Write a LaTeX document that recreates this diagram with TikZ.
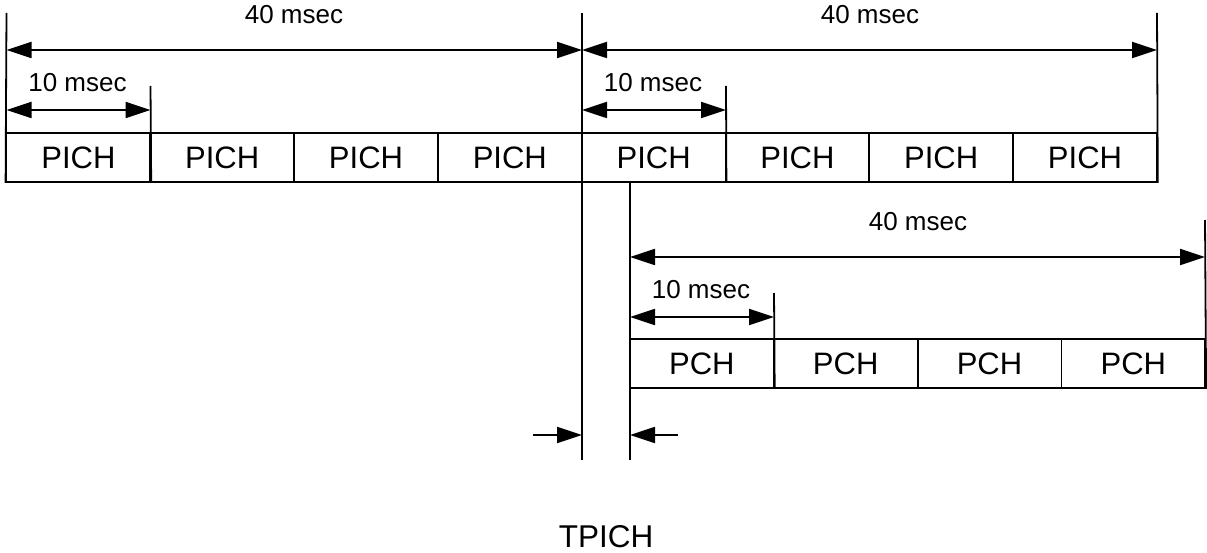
\documentclass[tikz,border=0pt]{standalone}
\usepackage{fontspec}
\setmainfont{Liberation Sans}
\usetikzlibrary{arrows.meta}
\begin{document}
\begin{tikzpicture}[x=1pt,y=-1pt,
  line width=1.8pt,
  cell/.style={draw, rectangle, minimum width=143.8pt, minimum height=49pt, inner sep=0pt, font=\fontsize{31}{34}\selectfont, anchor=center},
  lbl/.style={font=\fontsize{26}{29}\selectfont, inner sep=0pt, anchor=center},
  big/.style={font=\fontsize{31.5}{35}\selectfont, inner sep=0pt, anchor=center},
  tick/.style={line width=1.8pt},
  dim/.style={{Triangle[length=25pt,width=16pt]}-{Triangle[length=25pt,width=16pt]}},
  onetip/.style={-{Triangle[length=25pt,width=16pt]}}
]
\useasboundingbox (0,0) rectangle (1207,553);
% PICH row
\foreach \i in {0,...,7} {
  \node[cell] (p\i) at ({6.5+143.8*(\i+0.5)},157.5) {PICH};
}
% PCH row
\foreach \i in {0,...,3} {
  \node[cell] (c\i) at ({630+143.8*(\i+0.5)},363.5) {PCH};
}
% coordinates for ticks
\coordinate (a0t) at (6.5,13);   \coordinate (a0b) at (p0.south west);
\coordinate (a4t) at (582,13);   \coordinate (a4b) at (582,460);
\coordinate (a8t) at (1157,13);  \coordinate (a8b) at (p7.south east);
\coordinate (a1t) at (150.5,86); \coordinate (a1b) at (p0.south east);
\coordinate (a5t) at (726,86);   \coordinate (a5b) at (p4.south east);
\coordinate (b0t) at (630,183);  \coordinate (b0b) at (630,460);
\coordinate (b1t) at (774,293);  \coordinate (b1b) at (c0.south east);
\coordinate (b4t) at (1205,220); \coordinate (b4b) at (c3.south east);
\foreach \n in {a0,a4,a8,a1,a5,b0,b1,b4} { \draw[tick] (\n t) -- (\n b); }
% dimension arrows
\coordinate (d1l) at (6.5,50);  \coordinate (d1r) at (582,50);
\coordinate (d2l) at (582,50);  \coordinate (d2r) at (1157,50);
\coordinate (d3l) at (6.5,110); \coordinate (d3r) at (150.5,110);
\coordinate (d4l) at (582,110); \coordinate (d4r) at (726,110);
\coordinate (d5l) at (630,257); \coordinate (d5r) at (1205,257);
\coordinate (d6l) at (630,317); \coordinate (d6r) at (774,317);
\foreach \n in {d1,d2,d3,d4,d5,d6} { \draw[dim] (\n l) -- (\n r); }
% labels
\node[lbl] (l1) at (294,15) {40 msec};
\node[lbl] (l2) at (870,15) {40 msec};
\node[lbl] (l3) at (77.5,83) {10 msec};
\node[lbl] (l4) at (653,83) {10 msec};
\node[lbl] (l5) at (918,222) {40 msec};
\node[lbl] (l6) at (701,290) {10 msec};
% TPICH arrows
\coordinate (e1) at (533,435); \coordinate (e2) at (582,435);
\coordinate (e3) at (678,435); \coordinate (e4) at (630,435);
\draw[onetip] (e1) -- (e2);
\draw[onetip] (e3) -- (e4);
\node[big] (tp) at (606,537) {TPICH};
\end{tikzpicture}
\end{document}
